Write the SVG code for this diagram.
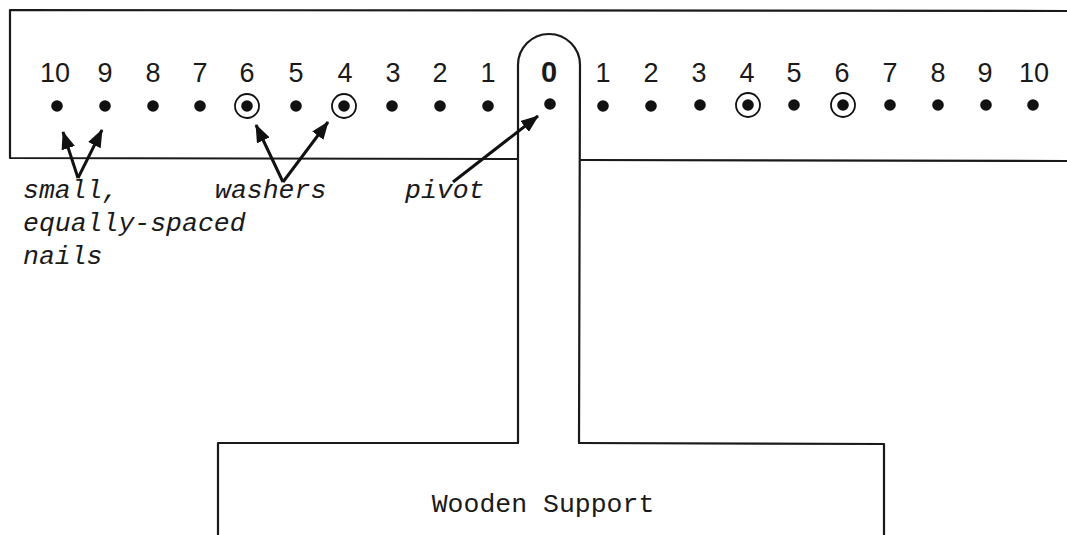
<svg xmlns="http://www.w3.org/2000/svg" width="1067" height="535" viewBox="0 0 1067 535">
<style>
.ln{fill:none;stroke:#1a1a1a;stroke-width:2.2;stroke-linecap:round;stroke-linejoin:round}
.num{font-family:"Liberation Sans",Arial,sans-serif;font-size:27px;fill:#1a1a1a;text-anchor:middle}
.zero{font-family:"Liberation Sans",Arial,sans-serif;font-size:29px;font-weight:bold;fill:#1a1a1a;text-anchor:middle}
.lab{font-family:"Liberation Mono","Courier New",monospace;font-style:italic;font-size:26.5px;fill:#1a1a1a}
.sup{font-family:"Liberation Mono","Courier New",monospace;font-size:26.5px;fill:#1a1a1a;text-anchor:middle}
.nail{fill:#111}
.washer{fill:none;stroke:#111;stroke-width:1.8}
.arr{fill:none;stroke:#111;stroke-width:3;marker-end:url(#ah)}
</style>
<defs>
<marker id="ah" viewBox="0 0 18 14" refX="17" refY="7" markerWidth="18" markerHeight="14" markerUnits="userSpaceOnUse" orient="auto">
<path d="M0,0 L18,7 L0,14 Z" fill="#111"/>
</marker>
</defs>
<rect width="1067" height="535" fill="#fff"/>
<g id="beam">
<path class="ln" d="M1067,11 L10,10 L10,158 L518,159"/>
<path class="ln" d="M580,160 L1067,161"/>
</g>
<g id="post">
<path class="ln" d="M518,443 L518,65 A31,31 0 0 1 580,65 L579,443"/>
</g>
<g id="support">
<path class="ln" d="M218,535 L218,443 L518,443 M579,443 L884,444 L884,535"/>
<text class="sup" x="543" y="512">Wooden Support</text>
</g>
<g id="scale">
<text class="num" x="55" y="82">10</text>
<text class="num" x="105" y="82">9</text>
<text class="num" x="153" y="82">8</text>
<text class="num" x="200" y="82">7</text>
<text class="num" x="247" y="82">6</text>
<text class="num" x="296" y="82">5</text>
<text class="num" x="345" y="82">4</text>
<text class="num" x="393" y="82">3</text>
<text class="num" x="440" y="82">2</text>
<text class="num" x="488" y="82">1</text>
<text class="zero" x="549" y="82">0</text>
<text class="num" x="603" y="82">1</text>
<text class="num" x="651" y="82">2</text>
<text class="num" x="699" y="82">3</text>
<text class="num" x="747" y="82">4</text>
<text class="num" x="794" y="82">5</text>
<text class="num" x="842" y="82">6</text>
<text class="num" x="890" y="82">7</text>
<text class="num" x="938" y="82">8</text>
<text class="num" x="985" y="82">9</text>
<text class="num" x="1034" y="82">10</text>
</g>
<g id="nails">
<circle class="nail" cx="57" cy="106" r="5.8"/>
<circle class="nail" cx="105" cy="106" r="5.8"/>
<circle class="nail" cx="153" cy="106" r="5.8"/>
<circle class="nail" cx="200" cy="106" r="5.8"/>
<circle class="nail" cx="247" cy="106" r="5.8"/>
<circle class="nail" cx="296" cy="106" r="5.8"/>
<circle class="nail" cx="344" cy="106" r="5.8"/>
<circle class="nail" cx="392" cy="106" r="5.8"/>
<circle class="nail" cx="440" cy="106" r="5.8"/>
<circle class="nail" cx="488" cy="106" r="5.8"/>
<circle class="nail" cx="550" cy="104" r="5.8"/>
<circle class="nail" cx="603" cy="106" r="5.8"/>
<circle class="nail" cx="651" cy="106" r="5.8"/>
<circle class="nail" cx="700" cy="105" r="5.8"/>
<circle class="nail" cx="748" cy="105" r="5.8"/>
<circle class="nail" cx="794" cy="105" r="5.8"/>
<circle class="nail" cx="843" cy="105" r="5.8"/>
<circle class="nail" cx="890" cy="105" r="5.8"/>
<circle class="nail" cx="938" cy="105" r="5.8"/>
<circle class="nail" cx="986" cy="105" r="5.8"/>
<circle class="nail" cx="1033" cy="105" r="5.8"/>
</g>
<g id="washers">
<circle class="washer" cx="247" cy="106" r="12"/>
<circle class="washer" cx="344" cy="106" r="12"/>
<circle class="washer" cx="748" cy="105" r="12"/>
<circle class="washer" cx="843" cy="105" r="12"/>
</g>
<g id="connectors">
<path class="arr" d="M78,178 L63,132"/>
<path class="arr" d="M78,178 L102,130"/>
<path class="arr" d="M283,182 L256,125"/>
<path class="arr" d="M283,182 L328,122"/>
<path class="arr" d="M453,182 L538,116"/>
</g>
<g id="labels">
<text class="lab" x="23" y="198">small,</text>
<text class="lab" x="23" y="231">equally-spaced</text>
<text class="lab" x="23" y="264">nails</text>
<text class="lab" x="215" y="198">washers</text>
<text class="lab" x="405" y="198">pivot</text>
</g>
</svg>
